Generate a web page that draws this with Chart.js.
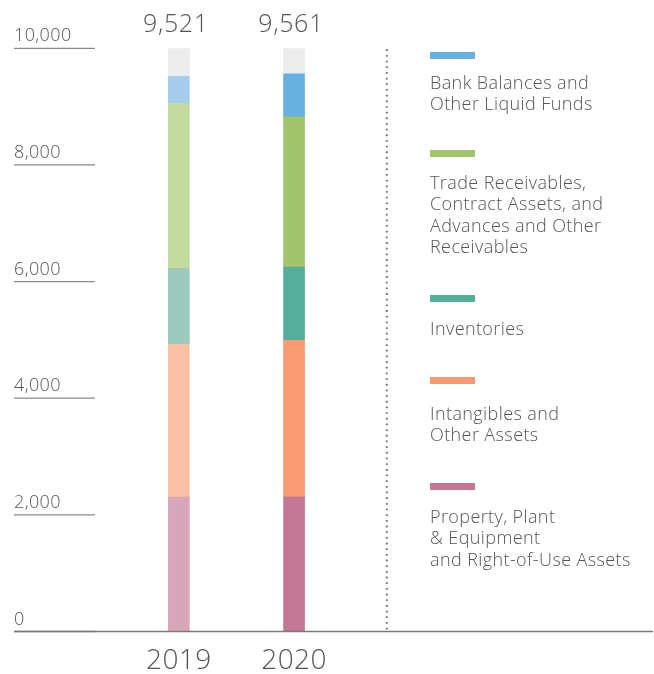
<!DOCTYPE html>
<html>
<head>
<meta charset="utf-8">
<script src="https://cdn.jsdelivr.net/npm/chart.js@4"></script>
<style>
  html, body { margin: 0; padding: 0; background: #fff; }
  #wrap { position: relative; width: 654px; height: 674px; }
  canvas { position: absolute; left: 0; top: 0; }
  .lg { position: absolute; left: 430px; font-family: "Open Sans", Lato, sans-serif; font-weight: 300; font-size: 18px; letter-spacing: 0.4px; color: #555557; line-height: 21.5px; white-space: pre; }
  .sw { position: absolute; left: 430px; width: 45px; height: 7px; }
</style>
</head>
<body>
<div id="wrap"><canvas id="c" width="654" height="674"></canvas></div>
<script>
// ---- data ----
const years = [2019, 2020];
const yearLabels = ['2019', '2020'];
const totals = [9521, 9561];
const seriesNames = [
  'Property, Plant\n& Equipment\nand Right-of-Use Assets',
  'Intangibles and\nOther Assets',
  'Inventories',
  'Trade Receivables,\nContract Assets, and\nAdvances and Other\nReceivables',
  'Bank Balances and\nOther Liquid Funds'
];
const ppe = [2306, 2311];
const intangibles = [2619, 2682];
const inventories = [1296, 1257];
const receivables = [2836, 2577];
const bank = [464, 734];
const yTicks = [0, 2000, 4000, 6000, 8000, 10000];
const yMax = 10000;

// ---- styles ----
const colors2019 = ['#d8a6b9', '#fbbfa2', '#9bc9bd', '#c4dba0', '#a6cdee'];
const colors2020 = ['#c47794', '#f89b72', '#53ae9a', '#a0c56a', '#67b1e0'];
const remainderColor = '#ececec';
const legendSwatchTop = [483, 377, 295, 150, 52];
const legendTextTop = [505.5, 402.5, 317.5, 171.5, 71.5];
const textColor = '#555557';
const FONT = '"Open Sans", Lato, sans-serif';

const seriesValues = [ppe, intangibles, inventories, receivables, bank];
const datasets = seriesValues.map((vals, i) => ({
  label: seriesNames[i],
  data: years.map((x, j) => ({ x: x, y: vals[j] })),
  backgroundColor: [colors2019[i], colors2020[i]],
  borderWidth: 0,
  barThickness: 21
}));
datasets.push({
  label: 'remainder',
  data: years.map((x, j) => ({ x: x, y: yMax - totals[j] })),
  backgroundColor: remainderColor,
  borderWidth: 0,
  barThickness: 21
});

const decor = {
  id: 'decor',
  beforeDatasetsDraw(chart) {
    const ctx = chart.ctx, ca = chart.chartArea;
    const ys = chart.scales.y, xs = chart.scales.x;
    ctx.save();
    ctx.font = '300 18px ' + FONT;
    ctx.letterSpacing = '0.4px';
    ctx.fillStyle = textColor;
    ctx.textAlign = 'left';
    ctx.textBaseline = 'alphabetic';
    yTicks.forEach(t => {
      const py = ys.getPixelForValue(t);
      ctx.strokeStyle = '#8a8a8a';
      ctx.lineWidth = 1.3;
      ctx.beginPath();
      ctx.moveTo(ca.left, py);
      ctx.lineTo(ca.left + 81, py);
      ctx.stroke();
      ctx.fillText(t.toLocaleString('en-US'), ca.left, py - 7);
    });
    const dx = xs.getPixelForValue(2020.805);
    ctx.strokeStyle = '#777';
    ctx.lineWidth = 2;
    ctx.setLineDash([1.8, 3.87]);
    ctx.beginPath();
    ctx.moveTo(dx, ys.getPixelForValue(yMax) + 1);
    ctx.lineTo(dx, ys.getPixelForValue(0));
    ctx.stroke();
    ctx.setLineDash([]);
    ctx.restore();
  },
  afterDatasetsDraw(chart) {
    const ctx = chart.ctx, ca = chart.chartArea;
    const ys = chart.scales.y, xs = chart.scales.x;
    ctx.save();
    const y0 = ys.getPixelForValue(0);
    ctx.strokeStyle = '#7a7a7a';
    ctx.lineWidth = 1.5;
    ctx.beginPath();
    ctx.moveTo(ca.left, y0);
    ctx.lineTo(ca.right, y0);
    ctx.stroke();
    ctx.fillStyle = textColor;
    ctx.textAlign = 'center';
    ctx.textBaseline = 'alphabetic';
    years.forEach((x, j) => {
      const px = xs.getPixelForValue(x);
      ctx.font = '300 25px ' + FONT;
      ctx.letterSpacing = '0.6px';
      ctx.fillText(totals[j].toLocaleString('en-US'), px - 3, ys.getPixelForValue(yMax) - 16.5);
      ctx.font = '300 28px ' + FONT;
      ctx.letterSpacing = '0.4px';
      ctx.fillText(yearLabels[j], px, y0 + 37);
    });
    ctx.restore();
  }
};

new Chart(document.getElementById('c'), {
  type: 'bar',
  data: { datasets: datasets },
  options: {
    responsive: false,
    devicePixelRatio: 1,
    animation: false,
    layout: { padding: { left: 14, right: 1, top: 48.3, bottom: 42.5 } },
    plugins: { legend: { display: false }, tooltip: { enabled: false } },
    scales: {
      x: { type: 'linear', stacked: true, display: false, offset: false, min: 2017.569, max: 2023.116 },
      y: { stacked: true, display: false, min: 0, max: yMax }
    }
  },
  plugins: [decor]
});

const wrap = document.getElementById('wrap');
seriesNames.forEach((name, i) => {
  const sw = document.createElement('div');
  sw.className = 'sw';
  sw.style.top = legendSwatchTop[i] + 'px';
  sw.style.background = colors2020[i];
  wrap.appendChild(sw);
  const t = document.createElement('div');
  t.className = 'lg';
  t.style.top = legendTextTop[i] + 'px';
  t.textContent = name;
  wrap.appendChild(t);
});
</script>
</body>
</html>
